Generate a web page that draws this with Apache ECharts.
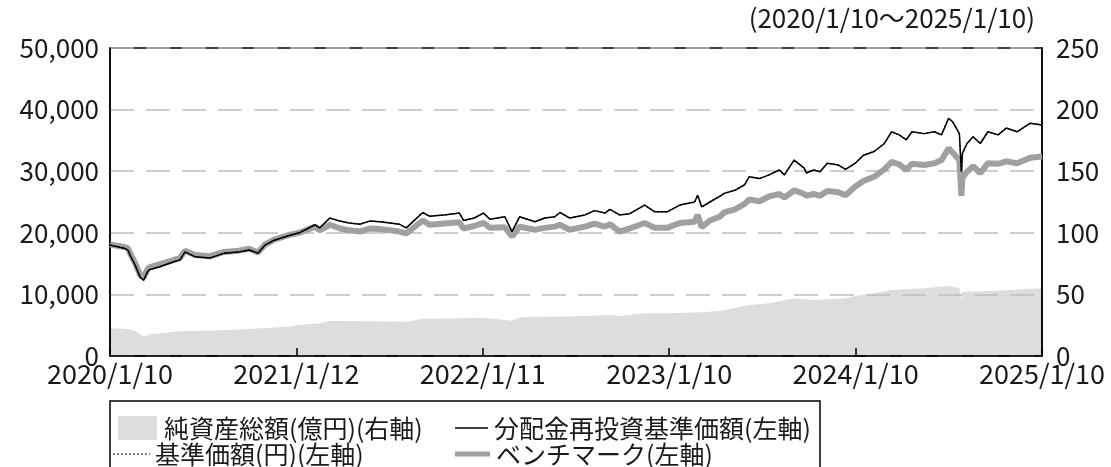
<!DOCTYPE html>
<html>
<head>
<meta charset="utf-8">
<title>基準価額の推移</title>
<script src="https://cdn.jsdelivr.net/npm/echarts@6/dist/echarts.min.js"></script>
<style>
  html, body { margin: 0; padding: 0; background: #fff; }
  #container { width: 1111px; height: 467px; }
</style>
</head>
<body>
<div id="container"></div>
<script>
//日付
var dates = [
    "2020-01-10","2020-02-07","2020-02-14","2020-02-20","2020-02-28","2020-03-09","2020-03-16","2020-03-23","2020-03-27","2020-04-17",
    "2020-05-07","2020-05-26","2020-06-05","2020-06-25","2020-07-24","2020-08-21","2020-09-18","2020-10-09","2020-10-26","2020-11-09",
    "2020-11-27","2020-12-28","2021-01-15","2021-02-15","2021-02-24","2021-03-16","2021-04-05","2021-04-23","2021-05-14","2021-06-02",
    "2021-06-22","2021-07-12","2021-07-30","2021-08-13","2021-09-14","2021-09-27","2021-10-26","2021-11-25","2021-12-03","2021-12-24",
    "2022-01-11","2022-01-24","2022-02-22","2022-03-08","2022-03-23","2022-04-22","2022-05-11","2022-05-31","2022-06-10","2022-06-29",
    "2022-07-29","2022-08-17","2022-09-06","2022-09-16","2022-10-05","2022-10-25","2022-11-23","2022-12-13","2023-01-06","2023-01-31",
    "2023-03-01","2023-03-07","2023-03-15","2023-03-31","2023-04-19","2023-04-28","2023-05-19","2023-06-07","2023-06-16","2023-07-06",
    "2023-07-25","2023-08-14","2023-08-24","2023-09-12","2023-10-02","2023-10-06","2023-10-20","2023-11-02","2023-11-16","2023-12-08",
    "2023-12-22","2024-01-10","2024-01-26","2024-02-16","2024-03-07","2024-03-21","2024-04-05","2024-04-19","2024-04-30","2024-05-24",
    "2024-06-13","2024-06-27","2024-07-11","2024-07-19","2024-08-01","2024-08-05","2024-08-07","2024-08-16","2024-08-28","2024-09-11",
    "2024-09-26","2024-10-16","2024-11-01","2024-11-22","2024-12-18","2025-01-10"
];
//分配金再投資基準価額(円)
var navReinvest = [
    18000,17500,17200,16100,14800,12800,12300,13600,14000,14500,
    15100,15600,16900,16100,15900,16700,16900,17200,16700,18000,
    18800,19600,20000,21300,20800,22400,21900,21600,21400,21900,
    21800,21600,21400,20800,23300,22700,22900,23200,22000,22400,
    23200,22200,22600,20200,22600,21800,22400,22600,23300,22400,
    22900,23600,23200,23800,22900,23100,24500,23400,23400,24500,
    25000,26100,24200,25000,25900,26400,26900,27800,29100,28800,
    29400,30200,29400,31800,30500,29700,30200,29900,31300,31000,
    30300,31300,32600,33200,34500,36400,35900,35100,36400,36100,
    36400,35900,38600,38000,36100,29900,32900,34500,35600,34500,
    36400,35900,37000,36400,37800,37500
];
//基準価額(円) 分配なしのため同じ値
var basePrice = navReinvest.slice();
//ベンチマーク
var benchmark = [
    18100,17700,17500,16400,15100,13200,12700,14000,14400,14900,
    15400,15900,17100,16400,16200,16900,17100,17400,16800,18100,
    18900,19700,20000,21000,20400,21300,20700,20400,20200,20700,
    20600,20400,20200,19900,22000,21300,21500,21700,20700,21100,
    21600,20800,20900,19400,21000,20500,20800,21000,21300,20500,
    21000,21500,21000,21400,20200,20700,21600,20800,20800,21600,
    21800,22900,20900,22000,22600,23300,23800,24700,25400,25100,
    25900,26300,25700,26900,26300,26000,26300,26000,26800,26600,
    26100,27500,28400,29100,30300,31500,31100,30200,31200,31000,
    31300,31800,33700,33000,31800,26000,28900,29900,30800,29700,
    31300,31200,31600,31300,32200,32400
];
//純資産総額(億円)
var assetDates = [
    "2020-01-10","2020-02-14","2020-02-28","2020-03-16","2020-03-27","2020-05-26","2020-08-21","2020-10-26","2020-12-28","2021-01-15",
    "2021-02-24","2021-03-16","2021-06-02","2021-08-13","2021-09-14","2021-11-25","2022-01-11","2022-03-08","2022-03-23","2022-07-29",
    "2022-09-16","2022-10-05","2022-11-23","2023-01-06","2023-03-15","2023-04-19","2023-05-19","2023-06-16","2023-07-25","2023-09-12",
    "2023-10-20","2023-12-22","2024-01-10","2024-02-16","2024-03-21","2024-05-24","2024-07-11","2024-08-01","2024-08-05","2024-08-07",
    "2024-10-16","2024-12-18","2025-01-10"
];
var assets = [
    22.5,22.0,20.5,15.7,17.5,20.0,21.0,22.3,24.0,25.2,
    26.5,28.5,28.3,27.9,30.3,30.6,31.1,28.7,31.4,32.5,
    33.3,32.5,34.6,34.6,35.5,36.5,39.0,41.4,42.8,46.8,
    45.5,46.8,48.7,50.9,53.6,54.9,56.8,54.9,45.5,52.2,
    53.0,54.5,54.9
];
//目盛ラベル
var xTickLabels = ["2020/1/10","2021/1/12","2022/1/11","2023/1/10","2024/1/10","2025/1/10"];
var periodText = "(2020/1/10～2025/1/10)";
//凡例
var legendNames = ["純資産総額(億円)(右軸)", "分配金再投資基準価額(左軸)", "基準価額(円)(左軸)", "ベンチマーク(左軸)"];

var FONT = '"Noto Sans CJK JP", "Noto Sans", sans-serif';
var TXT = '#1a1a1a';
var AREA = '#dcdddd';
var BENCH = '#9fa0a0';

function ts(s) {
    var p = s.split('-');
    return Date.UTC(+p[0], +p[1] - 1, +p[2]);
}
function pairs(ds, vs) {
    var r = [];
    for (var i = 0; i < ds.length; i++) r.push([ts(ds[i]), vs[i]]);
    return r;
}
function comma(v) {
    return String(v).replace(/\B(?=(\d{3})+(?!\d))/g, ',');
}
function legendText(x, y, s) {
    return { type: 'text', x: x, y: y, style: { text: s, font: '25px ' + FONT, fill: TXT, verticalAlign: 'middle' } };
}

var xMin = ts(dates[0]);
var xMax = ts(dates[dates.length - 1]);
var xStep = (xMax - xMin) / (xTickLabels.length - 1);

//凡例(手描き)
var legendGraphic = [
    { type: 'rect', shape: { x: 110, y: 401, width: 710, height: 80 }, style: { fill: 'none', stroke: '#000', lineWidth: 1.5 } },
    { type: 'rect', shape: { x: 118, y: 416, width: 39, height: 24 }, style: { fill: AREA } },
    legendText(164, 428, legendNames[0]),
    { type: 'line', shape: { x1: 455, y1: 428, x2: 488, y2: 428 }, style: { stroke: '#000', lineWidth: 1.5 } },
    legendText(494, 428, legendNames[1]),
    { type: 'line', shape: { x1: 113, y1: 454, x2: 150, y2: 454 }, style: { stroke: '#000', lineWidth: 1.2, lineDash: [2, 2] } },
    legendText(155, 454, legendNames[2]),
    { type: 'line', shape: { x1: 455, y1: 454, x2: 490, y2: 454 }, style: { stroke: BENCH, lineWidth: 5 } },
    legendText(496, 454, legendNames[3])
];

var myChart = echarts.init(document.getElementById('container'));
myChart.setOption({
    animation: false,
    textStyle: { fontFamily: FONT, color: TXT },
    grid: {
        left: 110, right: 69, top: 48, bottom: 111,
        show: true, borderColor: '#000', borderWidth: 1.5
    },
    xAxis: {
        type: 'value',
        min: xMin, max: xMax, interval: xStep,
        axisLine: { lineStyle: { color: '#000', width: 1.5 } },
        axisTick: { show: true, inside: true, length: 8, lineStyle: { color: '#000', width: 1.5 } },
        splitLine: { show: false },
        axisLabel: {
            fontSize: 27, color: TXT, fontFamily: FONT, margin: 4,
            formatter: function (v) {
                return xTickLabels[Math.round((v - xMin) / xStep)] || '';
            }
        }
    },
    yAxis: [{
        type: 'value', min: 0, max: 50000, interval: 10000,
        axisLine: { show: true, lineStyle: { color: '#000', width: 1.5 } },
        axisTick: { show: false },
        splitLine: { show: true, lineStyle: { color: '#bdbdbd', width: 1.5, type: [24, 12] } },
        axisLabel: { fontSize: 26, color: TXT, fontFamily: FONT, margin: 11, formatter: comma }
    }, {
        type: 'value', min: 0, max: 250, interval: 50,
        axisLine: { show: true, lineStyle: { color: '#000', width: 1.5 } },
        axisTick: { show: false },
        splitLine: { show: false },
        axisLabel: { fontSize: 26, color: TXT, fontFamily: FONT, margin: 14 }
    }],
    graphic: [{
        type: 'text', right: 76, top: 5,
        style: { text: periodText, font: '26px ' + FONT, fill: TXT }
    }].concat(legendGraphic),
    series: [{
        name: legendNames[0],
        type: 'line', yAxisIndex: 1, z: -1,
        data: pairs(assetDates, assets),
        symbol: 'none',
        lineStyle: { width: 0, color: AREA },
        areaStyle: { color: AREA, opacity: 1 }
    }, {
        name: legendNames[3],
        type: 'line', yAxisIndex: 0, z: 3,
        data: pairs(dates, benchmark),
        symbol: 'none',
        lineStyle: { width: 6, color: BENCH }
    }, {
        name: legendNames[2],
        type: 'line', yAxisIndex: 0, z: 4,
        data: pairs(dates, basePrice),
        symbol: 'none',
        lineStyle: { width: 1.2, color: '#000', type: [2, 2] }
    }, {
        name: legendNames[1],
        type: 'line', yAxisIndex: 0, z: 5,
        data: pairs(dates, navReinvest),
        symbol: 'none',
        lineStyle: { width: 1.5, color: '#000' }
    }]
});
</script>
</body>
</html>
